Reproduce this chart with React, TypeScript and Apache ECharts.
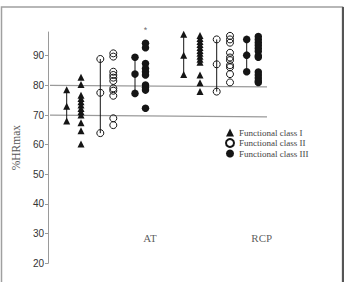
import React, { useEffect, useRef } from "react";
import * as echarts from "echarts";

// y-axis ticks
const yTicks = [20, 30, 40, 50, 60, 70, 80, 90];
const classNames = ["Functional class I", "Functional class II", "Functional class III"];
const phaseLabels = ["AT", "RCP"];

// horizontal positions of the columns on the (hidden) x value axis
const meanColX = [18.7, 52.3, 87, 135.7, 168.7, 198.7]; // AT I, II, III, RCP I, II, III
const indColX = [33, 65.3, 97.5, 152, 182, 210.3];
const phaseLabelX = [102, 213.7];
const phaseLabelY = 28.5;

// mean ± SD (low, mean, high) per column
const AT_I_stats = [68, 73, 78.5];
const AT_II_stats = [63.9, 77.5, 88.9];
const AT_III_stats = [77.3, 83.8, 89.5];
const RCP_I_stats = [83.7, 90.2, 97.2];
const RCP_II_stats = [77.9, 87.1, 95.5];
const RCP_III_stats = [84.6, 90.2, 95.5];

// individual values
const AT_I = [82.7, 80.3, 76.7, 75.6, 74.5, 73.4, 72.2, 71.1, 70, 67.4, 64.7, 60.2];
const AT_II = [90.8, 89.7, 84.6, 83.5, 82.6, 81.5, 79, 78.2, 76.5, 68.9, 66.6];
const AT_III = [94.2, 92.7, 87.4, 85.7, 84.6, 83.5, 80.1, 79.3, 78.4, 72.3];
const RCP_I = [96.8, 95.8, 94.8, 93.8, 92.8, 91.8, 90.8, 89.8, 88.8, 87.8, 83.5, 80.9, 77.9];
const RCP_II = [96.7, 95.5, 94.4, 91, 89.4, 88.5, 86.8, 86.1, 83.8, 81];
const RCP_III = [96.5, 95.5, 94.5, 93.5, 92.5, 91.5, 90, 89.5, 84.5, 83.5, 82.5, 81.5, 81];

const statsCols = [AT_I_stats, AT_II_stats, AT_III_stats, RCP_I_stats, RCP_II_stats, RCP_III_stats];
const indCols = [AT_I, AT_II, AT_III, RCP_I, RCP_II, RCP_III];

// reference lines (start value, end value)
const refLineX = [2, 219];
const refLine80 = [80, 79.5];
const refLine70 = [70, 69.4];

// significance mark
const starX = 97.5;
const starY = 98.6;

const ink = "#151515";

function symbolStyle(cls: number) {
  if (cls === 0) return { symbol: "triangle", symbolSize: [7, 7], itemStyle: { color: ink, opacity: 1 } };
  if (cls === 1)
    return {
      symbol: "circle",
      symbolSize: 7,
      itemStyle: { color: "rgba(255,255,255,0)", borderColor: ink, borderWidth: 1, opacity: 1 },
    };
  return { symbol: "circle", symbolSize: 7.5, itemStyle: { color: ink, opacity: 1 } };
}

export default function App() {
  const ref = useRef<HTMLDivElement>(null);
  useEffect(() => {
    if (!ref.current) return;
    const chart = echarts.init(ref.current, null, { renderer: "svg" });
    const series: any[] = [];
    for (let i = 0; i < 6; i++) {
      const cls = i % 3;
      const st = symbolStyle(cls);
      series.push({
        type: "scatter",
        name: classNames[cls],
        ...st,
        data: indCols[i].map((v) => [indColX[i], v]),
        z: 3,
      });
      series.push({
        type: "scatter",
        name: classNames[cls],
        ...st,
        data: statsCols[i].map((v) => [meanColX[i], v]),
        z: 3,
      });
      series.push({
        type: "line",
        symbol: "none",
        lineStyle: { color: ink, width: 1 },
        data: [
          [meanColX[i], Math.min(...statsCols[i])],
          [meanColX[i], Math.max(...statsCols[i])],
        ],
        z: 2,
      });
    }
    series.push({
      type: "line",
      symbol: "none",
      lineStyle: { color: "#9a9a9a", width: 1.3 },
      data: [
        [refLineX[0], refLine80[0]],
        [refLineX[1], refLine80[1]],
      ],
      z: 1,
    });
    series.push({
      type: "line",
      symbol: "none",
      lineStyle: { color: "#9a9a9a", width: 1.3 },
      data: [
        [refLineX[0], refLine70[0]],
        [refLineX[1], refLine70[1]],
      ],
      z: 1,
    });
    series.push({
      type: "scatter",
      symbolSize: 0,
      clip: false,
      silent: true,
      label: {
        show: true,
        position: "inside",
        formatter: (p: any) => phaseLabels[p.dataIndex],
        fontFamily: "Liberation Serif",
        fontSize: 11,
        color: "#333",
      },
      data: phaseLabelX.map((x) => [x, phaseLabelY]),
    });
    series.push({
      type: "scatter",
      symbolSize: 0,
      clip: false,
      silent: true,
      label: {
        show: true,
        position: "inside",
        formatter: "*",
        fontFamily: "Liberation Sans",
        fontSize: 9,
        color: "#444",
      },
      data: [[starX, starY]],
    });

    chart.setOption({
      animation: false,
      backgroundColor: "#fff",
      grid: { left: 48, top: 32, width: 232, bottom: 18.7 },
      xAxis: { type: "value", min: 0, max: 232, show: false },
      yAxis: {
        type: "value",
        min: 20,
        max: 98,
        interval: 10,
        name: "%HRmax",
        nameLocation: "middle",
        nameGap: 24,
        nameTextStyle: { fontFamily: "Liberation Serif", fontSize: 11.5, color: "#555" },
        axisLine: { show: true, lineStyle: { color: "#9a9a9a", width: 1 } },
        axisTick: { show: true, length: 3, lineStyle: { color: "#9a9a9a" }, customValues: yTicks },
        axisLabel: {
          customValues: yTicks,
          fontFamily: "Liberation Sans",
          fontSize: 10,
          color: "#333",
          margin: 4,
        },
        splitLine: { show: false },
      },
      legend: {
        orient: "vertical",
        left: 225,
        top: 128,
        padding: 0,
        itemWidth: 8,
        itemHeight: 8,
        itemGap: 1,
        textStyle: { fontFamily: "Liberation Serif", fontSize: 9, color: "#444" },
        data: [
          { name: classNames[0], icon: "triangle" },
          { name: classNames[1], icon: "circle" },
          { name: classNames[2], icon: "circle" },
        ],
      },
      graphic: [
        {
          type: "rect",
          shape: { x: 1.5, y: 7, width: 341, height: 300 },
          style: { fill: "none", stroke: "#a0a0a0", lineWidth: 1.5 },
          silent: true,
        },
        {
          type: "line",
          shape: { x1: 343, y1: 7, x2: 343, y2: 282 },
          style: { stroke: "#555", lineWidth: 2 },
          silent: true,
        },
      ],
      series,
    });
    return () => chart.dispose();
  }, []);
  return (
    <div
      ref={ref}
      style={{ position: "absolute", left: 0, top: 0, width: 345, height: 282, background: "#fff" }}
    />
  );
}
